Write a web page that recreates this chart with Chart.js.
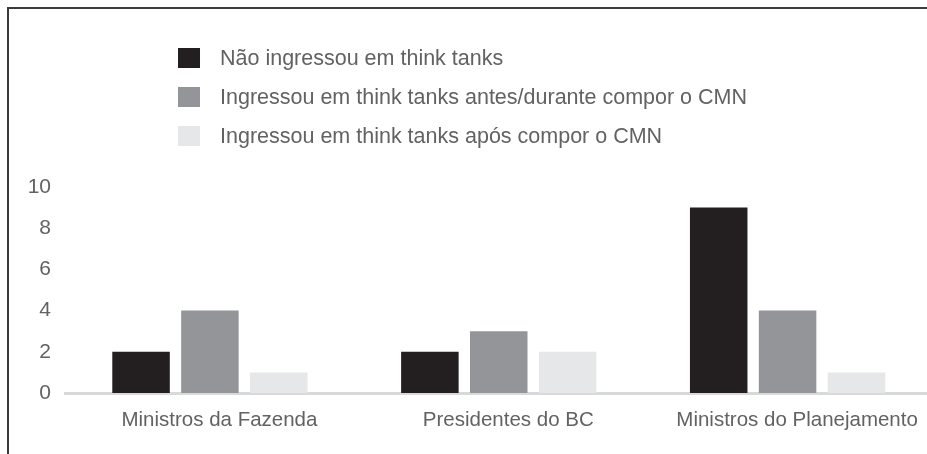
<!DOCTYPE html>
<html lang="pt-BR">
<head>
<meta charset="UTF-8">
<title>Think tanks e CMN</title>
<script src="https://cdn.jsdelivr.net/npm/chart.js"></script>
<style>
  html, body { margin: 0; padding: 0; background: #fff; overflow: hidden; }
  .wrap { position: relative; width: 932px; height: 454px; }
  .frame {
    position: absolute; left: 7px; top: 7px; right: -20px; bottom: -20px;
    border-top: 2px solid #3a3a3a; border-left: 2px solid #3a3a3a;
    pointer-events: none;
  }
  #legend {
    position: absolute; left: 178px; top: 48px; margin: 0; padding: 0; list-style: none;
    font-family: "Liberation Sans", Arial, sans-serif; font-size: 21.5px; color: #626262;
  }
  #legend li { display: flex; align-items: center; height: 20px; margin-bottom: 19px; white-space: nowrap; }
  #legend .box { width: 22px; height: 20px; margin-right: 20px; flex: none; }
</style>
</head>
<body>
<div class="wrap">
  <canvas id="chart"></canvas>
  <ul id="legend"></ul>
  <div class="frame"></div>
</div>
<script>
// data
const categories = ['Ministros da Fazenda', 'Presidentes do BC', 'Ministros do Planejamento'];
const seriesNames = [
  'Não ingressou em think tanks',
  'Ingressou em think tanks antes/durante compor o CMN',
  'Ingressou em think tanks após compor o CMN'
];
const naoIngressou = [2, 2, 9];
const antesDurante = [4, 3, 4];
const apos = [1, 2, 1];
const yMax = 10;
const yStep = 2;

const colors = ['#231f20', '#939598', '#e6e7e8'];

// legend drawn as html from the chart's own legend items
const htmlLegend = {
  id: 'htmlLegend',
  afterUpdate(chart) {
    const ul = document.getElementById('legend');
    ul.innerHTML = '';
    const items = chart.options.plugins.legend.labels.generateLabels(chart);
    items.forEach(item => {
      const li = document.createElement('li');
      const box = document.createElement('span');
      box.className = 'box';
      box.style.background = item.fillStyle;
      const text = document.createElement('span');
      text.textContent = item.text;
      li.appendChild(box);
      li.appendChild(text);
      ul.appendChild(li);
    });
  }
};

Chart.defaults.font.family = '"Liberation Sans", Arial, sans-serif';
Chart.defaults.color = '#626262';

const ctx = document.getElementById('chart').getContext('2d');
new Chart(ctx, {
  type: 'bar',
  data: {
    labels: categories,
    datasets: [naoIngressou, antesDurante, apos].map((values, i) => ({
      label: seriesNames[i],
      data: values,
      backgroundColor: colors[i],
      borderWidth: 0,
      categoryPercentage: 0.7154,
      barPercentage: 0.835
    }))
  },
  options: {
    responsive: true,
    maintainAspectRatio: false,
    animation: false,
    layout: { padding: { top: 187, bottom: 5.4, left: 0, right: 0 } },
    plugins: {
      legend: { display: false },
      tooltip: { enabled: false }
    },
    scales: {
      x: {
        grid: { display: false, drawTicks: false },
        border: { display: true, color: '#d8d9da', width: 3 },
        ticks: { font: { size: 20.5 }, padding: 15.5, labelOffset: 9.5, maxRotation: 0 }
      },
      y: {
        min: 0,
        max: yMax,
        grid: { display: false, drawTicks: false },
        border: { display: false },
        ticks: { stepSize: yStep, font: { size: 21 }, padding: 14.5 },
        afterFit(scale) { scale.width = 65.5; }
      }
    }
  },
  plugins: [htmlLegend]
});
</script>
</body>
</html>
